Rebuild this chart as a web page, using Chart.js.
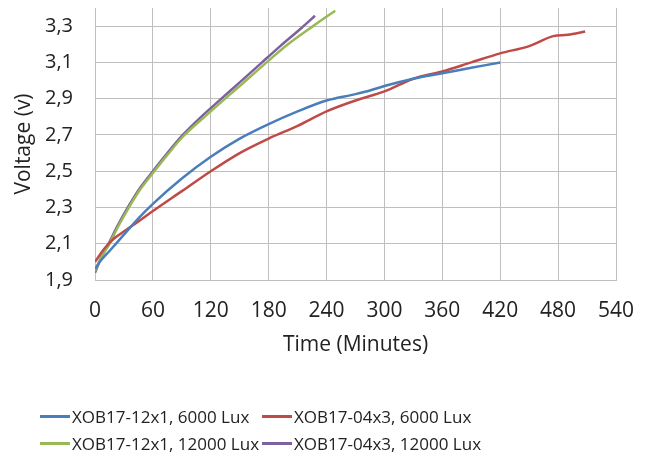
<!DOCTYPE html>
<html>
<head>
<meta charset="utf-8">
<script src="https://cdn.jsdelivr.net/npm/chart.js@4/dist/chart.umd.min.js"></script>
<style>
  body { margin: 0; background: #fff; }
  #wrap { position: relative; width: 648px; height: 459px; }
  #legend {
    position: absolute; left: 40px; top: 405px;
    display: grid; grid-template-columns: 222px 240px; row-gap: 5px;
    font: 17px 'Open Sans', sans-serif; color: #222;
  }
  .item { display: flex; align-items: center; height: 22px; white-space: nowrap; }
  .swatch { width: 30px; height: 3px; margin-right: 2px; }
</style>
</head>
<body>
<div id="wrap">
  <canvas id="chart" width="648" height="459"></canvas>
  <div id="legend"></div>
</div>
<script>
// series labels and colours
const seriesNames = ['XOB17-12x1, 6000 Lux', 'XOB17-04x3, 6000 Lux', 'XOB17-12x1, 12000 Lux', 'XOB17-04x3, 12000 Lux'];
const seriesColors = ['#4a7ebb', '#be4b48', '#98b954', '#7d60a0'];

// time (minutes) and voltage (v)
const blueTime = [0, 5, 15, 30, 45, 60, 90, 120, 150, 180, 210, 240, 270, 285, 300, 330, 360, 390, 420];
const blueVolt = [1.96, 2.0, 2.06, 2.15, 2.24, 2.32, 2.46, 2.58, 2.68, 2.76, 2.83, 2.89, 2.925, 2.945, 2.97, 3.01, 3.04, 3.07, 3.10];

const redTime = [0, 10, 20, 27, 45, 60, 90, 120, 150, 180, 210, 240, 270, 300, 330, 360, 390, 420, 450, 475, 490, 508];
const redVolt = [2.00, 2.075, 2.13, 2.157, 2.223, 2.28, 2.39, 2.50, 2.60, 2.68, 2.75, 2.83, 2.89, 2.94, 3.01, 3.05, 3.10, 3.15, 3.19, 3.245, 3.252, 3.27];

const greenTime = [0, 7, 14, 24, 34, 47, 60, 75, 91, 120, 150, 180, 200, 226, 249];
const greenVolt = [1.95, 2.03, 2.09, 2.195, 2.29, 2.40, 2.49, 2.59, 2.69, 2.83, 2.97, 3.11, 3.20, 3.30, 3.385];

const purpleTime = [0, 7, 14, 24, 34, 47, 60, 75, 91, 110, 131, 150, 172, 192, 214, 228];
const purpleVolt = [1.94, 2.03, 2.1, 2.205, 2.30, 2.41, 2.5, 2.6, 2.7, 2.8, 2.9, 2.99, 3.095, 3.19, 3.29, 3.357];

const yTicks = [1.9, 2.1, 2.3, 2.5, 2.7, 2.9, 3.1, 3.3];

function pts(t, v) { return t.map((x, i) => ({ x: x, y: v[i] })); }
const allSeries = [pts(blueTime, blueVolt), pts(redTime, redVolt), pts(greenTime, greenVolt), pts(purpleTime, purpleVolt)];

const family = "'Open Sans', sans-serif";
Chart.defaults.color = '#222';

const chart = new Chart(document.getElementById('chart'), {
  type: 'line',
  data: {
    datasets: allSeries.map((d, i) => ({
      label: seriesNames[i],
      data: d,
      borderColor: seriesColors[i],
      backgroundColor: seriesColors[i],
      borderWidth: 2.5,
      pointRadius: 0,
      tension: 0.3,
      cubicInterpolationMode: 'monotone'
    }))
  },
  options: {
    responsive: false,
    animation: false,
    layout: { autoPadding: false, padding: { left: 8, right: 32, top: 8, bottom: 97 } },
    plugins: { legend: { display: false }, tooltip: { enabled: false } },
    scales: {
      x: {
        type: 'linear', min: 0, max: 540,
        ticks: { stepSize: 60, font: { family: family, size: 21 }, padding: 18, maxRotation: 0 },
        grid: { color: '#bfbfbf', drawTicks: false },
        border: { color: '#bfbfbf' },
        title: { display: true, text: 'Time (Minutes)', font: { family: family, size: 21 }, padding: { top: 9, bottom: 4 } },
        // pin the axis box so the plot lands where the original sits
        afterFit: s => { s.height = 82; s.paddingLeft = 0; s.paddingRight = 0; }
      },
      y: {
        min: 1.9, max: 3.4,
        afterBuildTicks: s => { s.ticks = yTicks.map(v => ({ value: v })); },
        ticks: { font: { family: family, size: 20 }, padding: 22, callback: v => v.toFixed(1).replace('.', ',') },
        grid: { color: '#bfbfbf', drawTicks: false },
        border: { color: '#bfbfbf' },
        title: { display: true, text: 'Voltage (v)', font: { family: family, size: 21 }, padding: { top: 3, bottom: 9 } },
        afterFit: s => { s.width = 87; s.paddingTop = 0; s.paddingBottom = 0; }
      }
    }
  }
});

// legend laid out in two aligned columns like the original
const legend = document.getElementById('legend');
chart.data.datasets.forEach(ds => {
  const item = document.createElement('div');
  item.className = 'item';
  item.innerHTML = '<span class="swatch" style="background:' + ds.borderColor + '"></span>' + ds.label;
  legend.appendChild(item);
});
</script>
</body>
</html>
